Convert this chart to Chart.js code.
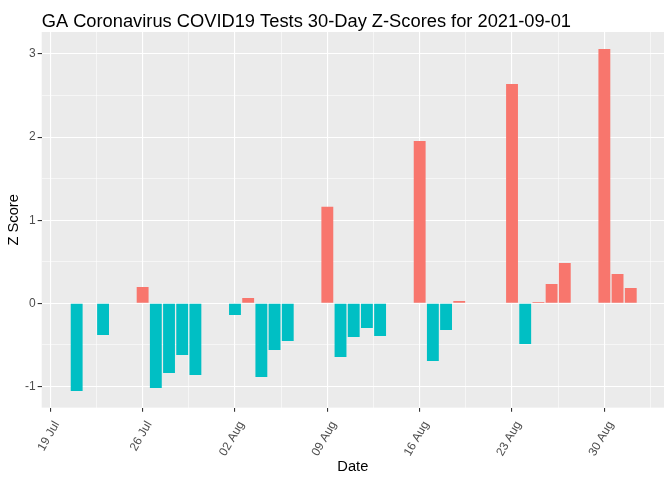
<!DOCTYPE html>
<html><head><meta charset="utf-8">
<script src="https://cdn.jsdelivr.net/npm/chart.js@4"></script>
<style>html,body{margin:0;padding:0;background:#fff}#wrap{width:672px;height:480px}</style>
</head><body><div id="wrap"><canvas id="c" width="672" height="480"></canvas></div>
<script>
const titleText = 'GA Coronavirus COVID19 Tests 30-Day Z-Scores for 2021-09-01';
const xTitle = 'Date';
const yTitle = 'Z Score';

const dates = ['2021-07-21','2021-07-23','2021-07-26','2021-07-27','2021-07-28','2021-07-29','2021-07-30',
  '2021-08-02','2021-08-03','2021-08-04','2021-08-05','2021-08-06',
  '2021-08-09','2021-08-10','2021-08-11','2021-08-12','2021-08-13',
  '2021-08-16','2021-08-17','2021-08-18','2021-08-19',
  '2021-08-23','2021-08-24','2021-08-25','2021-08-26','2021-08-27',
  '2021-08-30','2021-08-31','2021-09-01'];
const zScores = [-1.055,-0.381,0.197,-1.019,-0.838,-0.622,-0.862,
  -0.140,0.064,-0.886,-0.562,-0.453,
  1.163,-0.646,-0.405,-0.297,-0.393,
  1.953,-0.694,-0.321,0.028,
  2.639,-0.489,0.016,0.233,0.485,
  3.060,0.353,0.184];

const tickDates = ['2021-07-19','2021-07-26','2021-08-02','2021-08-09','2021-08-16','2021-08-23','2021-08-30'];
const tickLabels = ['19 Jul','26 Jul','02 Aug','09 Aug','16 Aug','23 Aug','30 Aug'];
const yTickValues = [-1, 0, 1, 2, 3];
const yTickLabels = ['-1','0','1','2','3'];

// axis limits (days relative to first tick date / z units)
const xMin = -0.653, xMax = 46.52;
const yMin = -1.256, yMax = 3.265;

const DAY = 86400000;
const toDay = s => (Date.parse(s + 'T00:00:00Z') - Date.parse(tickDates[0] + 'T00:00:00Z')) / DAY;
const majorX = tickDates.map(toDay);
const minorX = majorX.map(v => v + 3.5).filter(v => v > xMin && v < xMax);
const allX = majorX.concat(minorX).sort((a,b)=>a-b);
const minorY = yTickValues.map(v => v + 0.5).concat([yTickValues[0]-0.5]).filter(v => v > yMin && v < yMax);
const allY = yTickValues.concat(minorY).sort((a,b)=>a-b);

const points = dates.map((d,i) => ({x: toDay(d), y: zScores[i]}));
const FONT = "'Liberation Sans', Arial, sans-serif";

const bgPlugin = {
  id: 'bg',
  beforeDraw(chart) {
    const {ctx, chartArea: a} = chart;
    ctx.save(); ctx.fillStyle = '#EBEBEB';
    ctx.fillRect(a.left, a.top, a.right - a.left, a.bottom - a.top);
    ctx.restore();
  },
  afterDraw(chart) {
    const {ctx, chartArea: a} = chart;
    ctx.save();
    ctx.font = '18.3px ' + FONT;
    ctx.fillStyle = '#000';
    ctx.textBaseline = 'alphabetic';
    ctx.textAlign = 'left';
    ctx.fillText(titleText, a.left, 26.5);
    ctx.restore();
  }
};

const isMajorX = v => majorX.some(m => Math.abs(m - v) < 1e-6);
const isMajorY = v => yTickValues.some(m => Math.abs(m - v) < 1e-6);

new Chart(document.getElementById('c'), {
  type: 'bar',
  data: {
    datasets: [{
      data: points,
      backgroundColor: ctx => (ctx.raw && ctx.raw.y > 0) ? '#F8766D' : '#00BFC4',
      borderWidth: 0,
      categoryPercentage: 0.9,
      barPercentage: 1.0
    }]
  },
  options: {
    responsive: false,
    animation: false,
    layout: {padding: {top: 32, left: 5, right: 8, bottom: 3}},
    plugins: {legend: {display: false}, tooltip: {enabled: false}, title: {display: false}},
    scales: {
      x: {
        type: 'linear', min: xMin, max: xMax, offset: false,
        border: {display: false},
        grid: {
          offset: false, color: '#FFFFFF',
          lineWidth: c => (c.tick && isMajorX(c.tick.value)) ? 1.1 : 0.55,
          drawTicks: true, tickLength: 4,
          tickColor: c => (c.tick && isMajorX(c.tick.value)) ? '#333333' : 'rgba(0,0,0,0)',
          tickWidth: 1.1
        },
        afterBuildTicks: s => { s.ticks = allX.map(v => ({value: v})); },
        ticks: {
          autoSkip: false, minRotation: 60, maxRotation: 60, padding: 7, labelOffset: 6.5,
          color: '#4D4D4D', font: {size: 12, family: FONT},
          callback: v => { const i = majorX.findIndex(m => Math.abs(m - v) < 1e-6); return i >= 0 ? tickLabels[i] : ''; }
        },
        title: {display: true, text: xTitle, color: '#000', font: {size: 14.67, family: FONT}, padding: {top: -7.6, bottom: 1.2}}
      },
      y: {
        type: 'linear', min: yMin, max: yMax,
        border: {display: false},
        grid: {
          color: '#FFFFFF',
          lineWidth: c => (c.tick && isMajorY(c.tick.value)) ? 1.1 : 0.55,
          drawTicks: true, tickLength: 4,
          tickColor: c => (c.tick && isMajorY(c.tick.value)) ? '#333333' : 'rgba(0,0,0,0)',
          tickWidth: 1.1
        },
        afterBuildTicks: s => { s.ticks = allY.map(v => ({value: v})); },
        ticks: {
          autoSkip: false, padding: 2,
          color: '#4D4D4D', font: {size: 12, family: FONT},
          callback: v => { const i = yTickValues.findIndex(m => Math.abs(m - v) < 1e-6); return i >= 0 ? yTickLabels[i] : ''; }
        },
        title: {display: true, text: yTitle, color: '#000', font: {size: 14.67, family: FONT}, padding: {top: 0, bottom: 0.4}}
      }
    }
  },
  plugins: [bgPlugin]
});
</script>
</body></html>
